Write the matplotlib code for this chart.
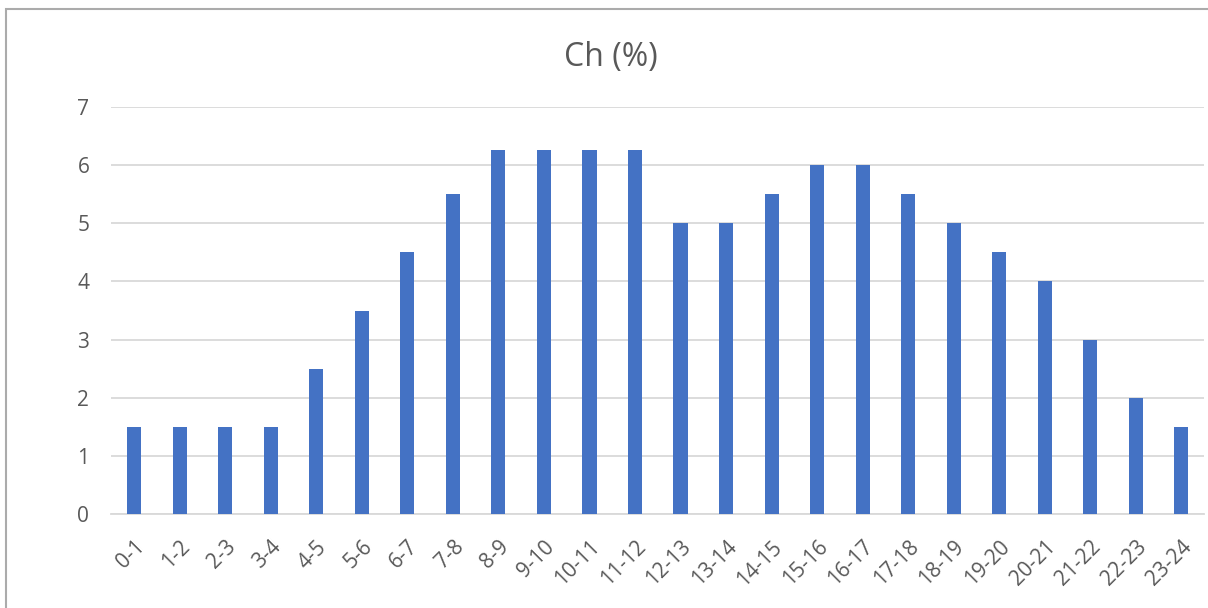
import matplotlib.pyplot as plt
from matplotlib.patches import Rectangle

# hourly share of consumption
hours = ["0-1", "1-2", "2-3", "3-4", "4-5", "5-6", "6-7", "7-8", "8-9", "9-10",
         "10-11", "11-12", "12-13", "13-14", "14-15", "15-16", "16-17", "17-18",
         "18-19", "19-20", "20-21", "21-22", "22-23", "23-24"]
ch = [1.5, 1.5, 1.5, 1.5, 2.5, 3.5, 4.5, 5.5, 6.25, 6.25,
      6.25, 6.25, 5, 5, 5.5, 6, 6, 5.5, 5, 4.5, 4, 3, 2, 1.5]

plt.rcParams['font.family'] = ['Open Sans', 'DejaVu Sans']

fig = plt.figure(figsize=(12.08, 6.08), dpi=100)
ax = fig.add_axes([0.0923, 0.1541, 0.9044, 0.6704])

x = range(len(hours))
ax.bar(x, ch, width=0.31, color="#4472C4", zorder=3)

ax.set_xlim(-0.5, len(hours) - 0.5)
ax.set_ylim(0, 7)
ax.set_yticks(range(0, 8))
ax.grid(axis="y", color="#D9D9D9", linewidth=1.3, zorder=0)
ax.set_xticks(list(x))
ax.set_xticklabels(hours, rotation=45, ha="right", rotation_mode="anchor")
ax.tick_params(axis="both", length=0, labelsize=15, labelcolor="#595959")
ax.tick_params(axis="y", pad=16)
ax.tick_params(axis="x", pad=16)
for side in ["top", "right", "left"]:
    ax.spines[side].set_visible(False)
ax.spines["bottom"].set_color("#D9D9D9")
ax.spines["bottom"].set_linewidth(1.3)

fig.text(0.5055, 0.905, "Ch (%)", ha="center", va="center", fontsize=23, color="#595959")

# chart border
fig.patches.append(Rectangle((6 / 1208, -0.1), 1.2, 1.1 - 9 / 608, transform=fig.transFigure,
                             fill=False, edgecolor="#ABABAB", linewidth=1.5))

fig.savefig("out.png", dpi=100)
